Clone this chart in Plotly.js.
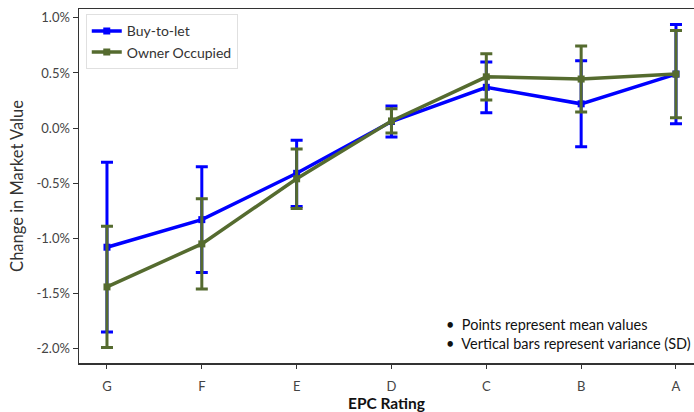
<!DOCTYPE html>
<html><head><meta charset="utf-8">
<script src="https://cdn.plot.ly/plotly-3.0.1.min.js"></script>
<style>body{margin:0;padding:0;background:#fff}#chart{width:694px;height:412px}</style>
</head><body><div id="chart"></div>
<script>
const categories = ["G","F","E","D","C","B","A"];
const btlMean = [-1.08, -0.83, -0.41, 0.06, 0.37, 0.22, 0.49];
const btlSD   = [0.77, 0.48, 0.30, 0.14, 0.23, 0.39, 0.45];
const ooMean  = [-1.44, -1.05, -0.46, 0.065, 0.465, 0.445, 0.49];
const ooSD    = [0.55, 0.41, 0.27, 0.11, 0.21, 0.30, 0.395];
const yTicks = [-2.0, -1.5, -1.0, -0.5, 0.0, 0.5, 1.0];
const yTickText = yTicks.map(v => v.toFixed(1) + "%");
const notes = ["•  Points represent mean values", "•  Vertical bars represent variance (SD)"];

const font = "Lato, 'Open Sans', sans-serif";
const traces = [
  {x: categories, y: btlMean, name: "Buy-to-let", type: "scatter", mode: "lines+markers",
   line: {color: "#0000ff", width: 3.5}, marker: {color: "#0000ff", size: 7, symbol: "square"},
   error_y: {type: "data", array: btlSD, visible: true, color: "#0000ff", thickness: 3, width: 6}},
  {x: categories, y: ooMean, name: "Owner Occupied", type: "scatter", mode: "lines+markers",
   line: {color: "#556b2f", width: 3.5}, marker: {color: "#556b2f", size: 7, symbol: "square"},
   error_y: {type: "data", array: ooSD, visible: true, color: "#556b2f", thickness: 3, width: 6}}
];
const layout = {
  width: 694, height: 412,
  margin: {l: 79, r: 0, t: 9, b: 49},
  paper_bgcolor: "#fff", plot_bgcolor: "#fff",
  font: {family: font, color: "#444", size: 13},
  showlegend: true,
  legend: {x: 0.011, y: 0.985, xanchor: "left", yanchor: "top", bgcolor: "#fff",
           bordercolor: "#e0e0e0", borderwidth: 1, font: {size: 14, color: "#333", family: font},
           tracegroupgap: 0},
  xaxis: {type: "category", range: [-0.295, 6.19], showgrid: false, zeroline: false,
          showline: true, linecolor: "#333", linewidth: 1.5, mirror: true,
          ticks: "outside", ticklen: 4, tickcolor: "#333", ticklabelstandoff: 7,
          tickfont: {size: 13, color: "#444", family: font},
          title: {text: "<b>EPC Rating</b>", font: {size: 15.5, color: "#111", family: font}, standoff: 8}},
  yaxis: {range: [-2.13, 1.08], showgrid: false, zeroline: false,
          showline: true, linecolor: "#333", linewidth: 1.5,
          ticks: "outside", ticklen: 5, tickcolor: "#333",
          tickvals: yTicks, ticktext: yTickText,
          tickfont: {size: 13, color: "#444", family: font},
          title: {text: "Change in Market Value", font: {size: 16.5, color: "#333", family: font}, standoff: 8}},
  annotations: [{
    text: notes.join("<br>"), xref: "paper", yref: "paper", x: 0.594, y: (363 - 334) / 354,
    xanchor: "left", yanchor: "middle", align: "left", showarrow: false,
    font: {size: 14.5, color: "#111", family: font}
  }]
};
Plotly.newPlot("chart", traces, layout, {displayModeBar: false, staticPlot: true});
</script></body></html>
